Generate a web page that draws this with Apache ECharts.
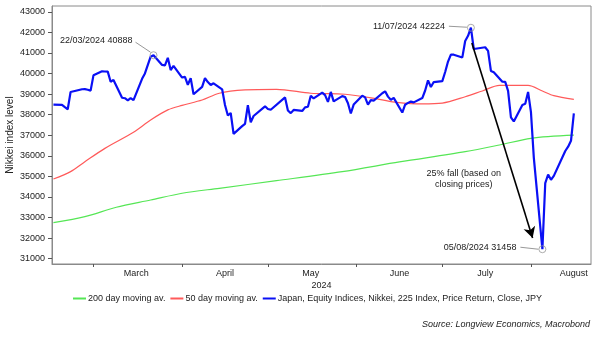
<!DOCTYPE html>
<html>
<head>
<meta charset="utf-8">
<script src="https://cdn.jsdelivr.net/npm/echarts@6/dist/echarts.min.js"></script>
<style>
html,body{margin:0;padding:0;background:#fff;}
#c{width:602px;height:338px;}
</style>
</head>
<body>
<div id="c"></div>
<script>
// ---- Data ----
const nikkeiDates = [
'2024-02-16','2024-02-19','2024-02-20','2024-02-21','2024-02-22','2024-02-26','2024-02-27','2024-02-28','2024-02-29',
'2024-03-01','2024-03-04','2024-03-05','2024-03-06','2024-03-07','2024-03-08','2024-03-11','2024-03-12','2024-03-13','2024-03-14','2024-03-15','2024-03-18','2024-03-19','2024-03-21','2024-03-22','2024-03-25','2024-03-26','2024-03-27','2024-03-28','2024-03-29',
'2024-04-01','2024-04-02','2024-04-03','2024-04-04','2024-04-05','2024-04-08','2024-04-09','2024-04-10','2024-04-11','2024-04-12','2024-04-15','2024-04-16','2024-04-17','2024-04-18','2024-04-19','2024-04-22','2024-04-23','2024-04-24','2024-04-25','2024-04-26','2024-04-30',
'2024-05-01','2024-05-02','2024-05-07','2024-05-08','2024-05-09','2024-05-10','2024-05-13','2024-05-14','2024-05-15','2024-05-16','2024-05-17','2024-05-20','2024-05-21','2024-05-22','2024-05-23','2024-05-24','2024-05-27','2024-05-28','2024-05-29','2024-05-30','2024-05-31',
'2024-06-03','2024-06-04','2024-06-05','2024-06-06','2024-06-07','2024-06-10','2024-06-11','2024-06-12','2024-06-13','2024-06-14','2024-06-17','2024-06-18','2024-06-19','2024-06-20','2024-06-21','2024-06-24','2024-06-25','2024-06-26','2024-06-27','2024-06-28',
'2024-07-01','2024-07-02','2024-07-03','2024-07-04','2024-07-05','2024-07-08','2024-07-09','2024-07-10','2024-07-11','2024-07-12','2024-07-16','2024-07-17','2024-07-18','2024-07-19','2024-07-22','2024-07-23','2024-07-24','2024-07-25','2024-07-26','2024-07-29','2024-07-30','2024-07-31',
'2024-08-01','2024-08-02','2024-08-05','2024-08-06','2024-08-07','2024-08-08','2024-08-09','2024-08-13','2024-08-14','2024-08-15','2024-08-16'
];
const nikkeiValues = [
38487,38470,38363,38262,39098,39233,39239,39208,39166,
39910,40109,40097,40090,39598,39688,38820,38797,38695,38807,38707,39740,40003,40815,40888,40414,40398,40762,40168,40369,
39803,39838,39451,39773,38992,39347,39773,39582,39442,39523,39232,38471,37961,38079,37068,37438,37552,38460,37628,37934,38405,
38274,38236,38835,38202,38073,38229,38179,38356,38385,38920,38787,39069,38946,38617,39103,38646,38900,38855,38556,38054,38487,
38923,38837,38490,38703,38683,39038,39134,38876,38720,38814,38102,38482,38570,38633,38596,38804,39173,39667,39341,39583,
39631,40074,40580,40913,40912,40780,41580,41831,42224,41190,41275,41098,40126,40063,39599,39594,39154,37869,37667,38468,38525,39101,
38126,35909,31458,34675,35089,34831,35025,36232,36442,36726,38062
];
const ma50Dates = ['2024-02-16','2024-02-22','2024-02-27','2024-03-05','2024-03-15','2024-03-21','2024-03-27','2024-04-01','2024-04-08','2024-04-14','2024-04-23','2024-05-04','2024-05-16','2024-05-28','2024-06-09','2024-06-15','2024-06-24','2024-07-01','2024-07-09','2024-07-15','2024-07-21','2024-07-31','2024-08-05','2024-08-09','2024-08-16'];
const ma50Values = [34870,35230,35710,36360,37140,37740,38230,38450,38710,39040,39200,39230,39040,38990,38745,38600,38520,38560,38870,39150,39420,39420,39150,38920,38740];
const ma200Dates = ['2024-02-16','2024-02-27','2024-03-09','2024-03-21','2024-04-01','2024-04-14','2024-05-04','2024-05-27','2024-06-16','2024-07-09','2024-07-21','2024-08-01','2024-08-16'];
const ma200Values = [32750,33040,33500,33850,34180,34420,34790,35230,35700,36200,36525,36850,37000];
const monthLabelDates = ['2024-03-16','2024-04-16','2024-05-16','2024-06-16','2024-07-16','2024-08-16'];
const monthLabels = ['March','April','May','June','July','August'];
const monthTickDates = ['2024-03-01','2024-04-01','2024-05-01','2024-06-01','2024-07-01','2024-08-01'];
const yTickValues = [31000,32000,33000,34000,35000,36000,37000,38000,39000,40000,41000,42000,43000];
const annotDates = ['2024-03-22','2024-07-11','2024-08-05'];
const annotValues = [40888,42224,31458];
const annotTexts = ['22/03/2024 40888','11/07/2024 42224','05/08/2024 31458'];
const arrowFrom = ['2024-07-11T08:00:00', 41480];
const arrowTo = ['2024-08-01T14:00:00', 32000];
const arrowNote = {date:'2024-07-08T12:00:00', value:34870, text:'25% fall (based on\nclosing prices)'};
const seriesNames = ['200 day moving av.','50 day moving av.','Japan, Equity Indices, Nikkei, 225 Index, Price Return, Close, JPY'];

// ---- helpers ----
function ts(d){
  const [datePart,timePart] = d.split('T');
  const [y,m,dd] = datePart.split('-').map(Number);
  let h=0,mi=0;
  if(timePart){const t=timePart.split(':').map(Number);h=t[0];mi=t[1];}
  return new Date(y,m-1,dd,h,mi).getTime();
}
const zip = (ds,vs)=>ds.map((d,i)=>[ts(d),vs[i]]);
const FONT = 'Liberation Sans, Arial, sans-serif';
const labelTs = monthLabelDates.map(ts);
const FS = 9;

const chart = echarts.init(document.getElementById('c'), null, {renderer:'canvas'});
const option = {
  animation:false,
  backgroundColor:'#fff',
  textStyle:{fontFamily:FONT},
  grid:{left:52,right:11,top:6,bottom:74,show:true,borderColor:'#8a8a8a',borderWidth:1,containLabel:false,outerBoundsMode:'none'},
  xAxis:{
    type:'value',
    min:ts('2024-02-15T12:00:00'),
    max:ts('2024-08-22'),
    name:'2024',nameLocation:'middle',nameGap:17,nameMoveOverlap:false,
    nameTextStyle:{color:'#222',fontSize:FS,fontFamily:FONT},
    axisLine:{show:true,lineStyle:{color:'#8a8a8a',width:1}},
    axisTick:{show:true,length:3,lineStyle:{color:'#555'},customValues:monthTickDates.map(ts)},
    axisLabel:{show:true,color:'#222',fontSize:FS,fontFamily:FONT,margin:5,
      customValues:labelTs,
      formatter:function(v){let best=0;for(let i=0;i<labelTs.length;i++){if(Math.abs(labelTs[i]-v)<Math.abs(labelTs[best]-v))best=i;}return monthLabels[best];}},
    splitLine:{show:false}
  },
  yAxis:{
    type:'value',min:30740,max:43280,
    name:'Nikkei index level',nameLocation:'middle',nameGap:37,nameRotate:90,nameMoveOverlap:false,
    nameTextStyle:{color:'#222',fontSize:10,fontFamily:FONT},
    axisLine:{show:true,lineStyle:{color:'#8a8a8a',width:1}},
    axisTick:{show:true,length:4,lineStyle:{color:'#555'},customValues:yTickValues},
    axisLabel:{color:'#222',fontSize:FS,fontFamily:FONT,margin:7,customValues:yTickValues,formatter:function(v){return String(Math.round(v));}},
    splitLine:{show:false}
  },
  legend:{
    bottom:30,left:68,itemGap:5,itemWidth:13,itemHeight:2,
    icon:'rect',
    textStyle:{color:'#222',fontSize:FS,fontFamily:FONT,padding:[0,0,0,-3]},
    data:seriesNames
  },
  series:[
    {name:seriesNames[0],type:'line',data:zip(ma200Dates,ma200Values),showSymbol:false,smooth:0.3,
     lineStyle:{color:'#55e655',width:1.2},itemStyle:{color:'#55e655'},z:2},
    {name:seriesNames[1],type:'line',data:zip(ma50Dates,ma50Values),showSymbol:false,smooth:0.3,
     lineStyle:{color:'#ff5a5a',width:1.2},itemStyle:{color:'#ff5a5a'},z:3},
    {name:seriesNames[2],type:'line',data:zip(nikkeiDates,nikkeiValues),showSymbol:false,
     lineStyle:{color:'#0a10f5',width:2.2},itemStyle:{color:'#0a10f5'},z:4,
     markLine:{silent:true,symbol:['none','arrow'],symbolSize:[9,11],
       lineStyle:{color:'#000',width:1.6,type:'solid'},label:{show:false},
       data:[[{coord:[ts(arrowFrom[0]),arrowFrom[1]]},{coord:[ts(arrowTo[0]),arrowTo[1]]}]]}
    },
    {name:'annot',type:'scatter',data:zip(annotDates,annotValues),symbol:'circle',symbolSize:7,
     itemStyle:{color:'rgba(255,255,255,0)',borderColor:'#999',borderWidth:1},z:5,silent:true}
  ]
};
chart.setOption(option);

// annotations: text + leader lines positioned from the data points via the chart's scales
const p = annotDates.map((d,i)=>chart.convertToPixel({gridIndex:0},[ts(d),annotValues[i]]));
const g = [];
const AF = FS+'px '+FONT;
g.push({type:'line',shape:{x1:p[0][0]-3,y1:p[0][1]-3,x2:p[0][0]-18,y2:p[0][1]-13},style:{stroke:'#999',lineWidth:1}});
g.push({type:'text',x:p[0][0]-21,y:p[0][1]-15,style:{text:annotTexts[0],fill:'#222',font:AF,align:'right',verticalAlign:'middle'}});
g.push({type:'line',shape:{x1:p[1][0]-4,y1:p[1][1]-0.5,x2:p[1][0]-22,y2:p[1][1]-1.5},style:{stroke:'#999',lineWidth:1}});
g.push({type:'text',x:p[1][0]-26,y:p[1][1]-1.5,style:{text:annotTexts[1],fill:'#222',font:AF,align:'right',verticalAlign:'middle'}});
g.push({type:'line',shape:{x1:p[2][0]-4,y1:p[2][1],x2:p[2][0]-22,y2:p[2][1]-2},style:{stroke:'#999',lineWidth:1}});
g.push({type:'text',x:p[2][0]-26,y:p[2][1]-2,style:{text:annotTexts[2],fill:'#222',font:AF,align:'right',verticalAlign:'middle'}});
const pt = chart.convertToPixel({gridIndex:0},[ts(arrowNote.date),arrowNote.value]);
g.push({type:'text',x:pt[0],y:pt[1],style:{text:arrowNote.text,fill:'#222',font:AF,align:'center',verticalAlign:'middle',lineHeight:11}});
g.push({type:'text',right:12,bottom:9,style:{text:'Source: Longview Economics, Macrobond',fill:'#222',font:'italic '+AF}});
chart.setOption({graphic:g});
</script>
</body>
</html>
